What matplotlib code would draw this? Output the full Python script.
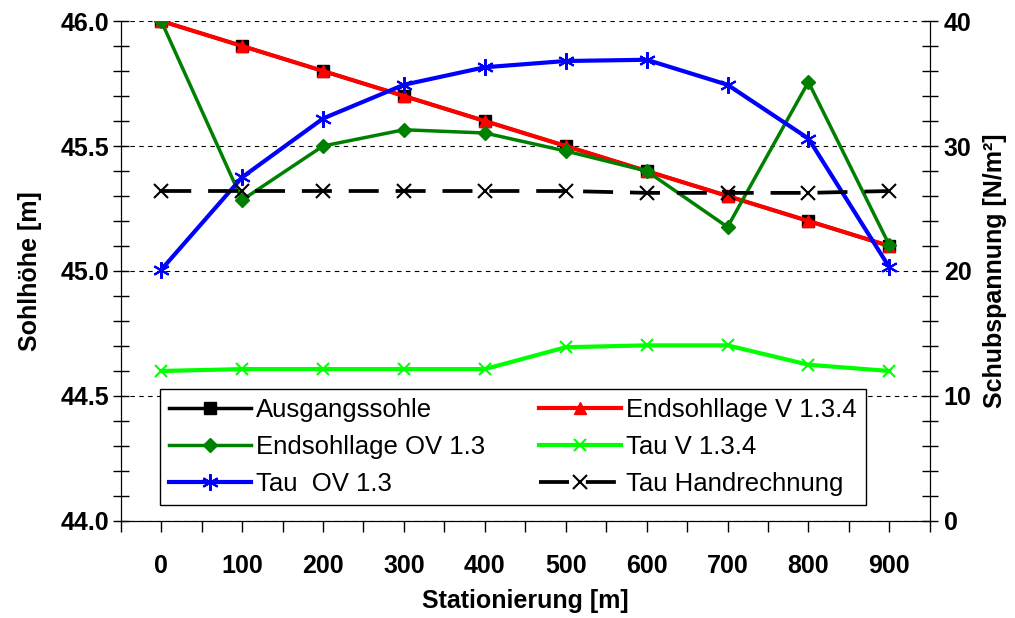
import numpy as np
import matplotlib.pyplot as plt
from matplotlib.ticker import MultipleLocator, FixedLocator

plt.rcParams['font.family'] = ['Liberation Sans', 'DejaVu Sans']

station = [0, 100, 200, 300, 400, 500, 600, 700, 800, 900]
ausgangssohle = [46.0, 45.9, 45.8, 45.7, 45.6, 45.5, 45.4, 45.3, 45.2, 45.1]
endsohle_v134 = [46.0, 45.9, 45.8, 45.7, 45.6, 45.5, 45.4, 45.3, 45.2, 45.1]
endsohle_ov13 = [46.0, 45.284, 45.50, 45.565, 45.552, 45.48, 45.40, 45.176, 45.756, 45.104]
tau_v134 = [12.0, 12.15, 12.15, 12.15, 12.15, 13.9, 14.05, 14.05, 12.5, 12.0]
tau_ov13 = [20.1, 27.5, 32.2, 34.9, 36.3, 36.8, 36.9, 34.9, 30.6, 20.3]
tau_hand = [26.4, 26.4, 26.4, 26.4, 26.4, 26.4, 26.25, 26.25, 26.25, 26.4]

fig = plt.figure(figsize=(10.15, 6.18), dpi=100)
ax = fig.add_axes([0.119, 0.157, 0.797, 0.809])
ax2 = ax.twinx()

l1, = ax.plot(station, ausgangssohle, color='black', lw=2.5, marker='s', ms=8, label='Ausgangssohle')
l2, = ax.plot(station, endsohle_v134, color='red', lw=3, marker='^', ms=9, label='Endsohllage V 1.3.4')
l3, = ax.plot(station, endsohle_ov13, color='#008000', lw=2.5, marker='D', ms=7, label='Endsohllage OV 1.3')
l4, = ax2.plot(station, tau_v134, color='#00ff00', lw=3, marker='x', ms=9, mew=1.5, label='Tau V 1.3.4')
l5, = ax2.plot(station, tau_ov13, color='blue', lw=3, marker=(6, 2, 0), ms=12, mew=1.5, label='Tau  OV 1.3')
l6, = ax2.plot(station, tau_hand, color='black', lw=2.7, marker='x', ms=10, mew=1.5,
               dashes=(8, 4.5), label='Tau Handrechnung')
ax2.set_zorder(ax.get_zorder() + 1)

ax.set_xlim(-50, 950)
ax.set_ylim(44.0, 46.0)
ax2.set_ylim(0, 40)

ax.xaxis.set_major_locator(FixedLocator(station))
ax.xaxis.set_minor_locator(MultipleLocator(50))
ax.yaxis.set_major_locator(MultipleLocator(0.5))
ax.yaxis.set_minor_locator(MultipleLocator(0.1))
ax2.yaxis.set_major_locator(MultipleLocator(10))
ax2.yaxis.set_minor_locator(MultipleLocator(2))
ax.yaxis.set_major_formatter(plt.FormatStrFormatter('%.1f'))

ax.grid(axis='y', which='major', color='black', ls=(0, (4, 4)), lw=0.8)
ax.spines['top'].set_visible(False)
ax2.spines['top'].set_visible(False)

ax.tick_params(axis='x', which='both', direction='out', length=8, width=1, pad=16, labelsize=18)
ax.tick_params(axis='y', which='both', direction='inout', length=12, width=1, labelsize=18, pad=2)
ax2.tick_params(axis='y', which='both', direction='inout', length=12, width=1, labelsize=18, pad=4)
for lab in ax.get_xticklabels() + ax.get_yticklabels() + ax2.get_yticklabels():
    lab.set_fontweight('bold')

ax.set_xlabel('Stationierung [m]', fontsize=18, fontweight='bold', labelpad=8)
ax.set_ylabel('Sohlhöhe [m]', fontsize=18, fontweight='bold', labelpad=14)
ax2.set_ylabel('Schubspannung [N/m²]', fontsize=18, fontweight='bold', labelpad=8)

leg = ax2.legend(handles=[l1, l3, l5, l2, l4, l6], ncol=2, loc='lower left',
                 bbox_to_anchor=(0.048, 0.032, 0.873, 0.226), mode='expand',
                 fontsize=18.5, frameon=True, fancybox=False, framealpha=1,
                 edgecolor='black', handlelength=3.2, handletextpad=0.2,
                 columnspacing=1.0, borderaxespad=0, labelspacing=0.5,
                 borderpad=0.35)
leg.get_frame().set_linewidth(1)

fig.savefig('out.png', dpi=100)
